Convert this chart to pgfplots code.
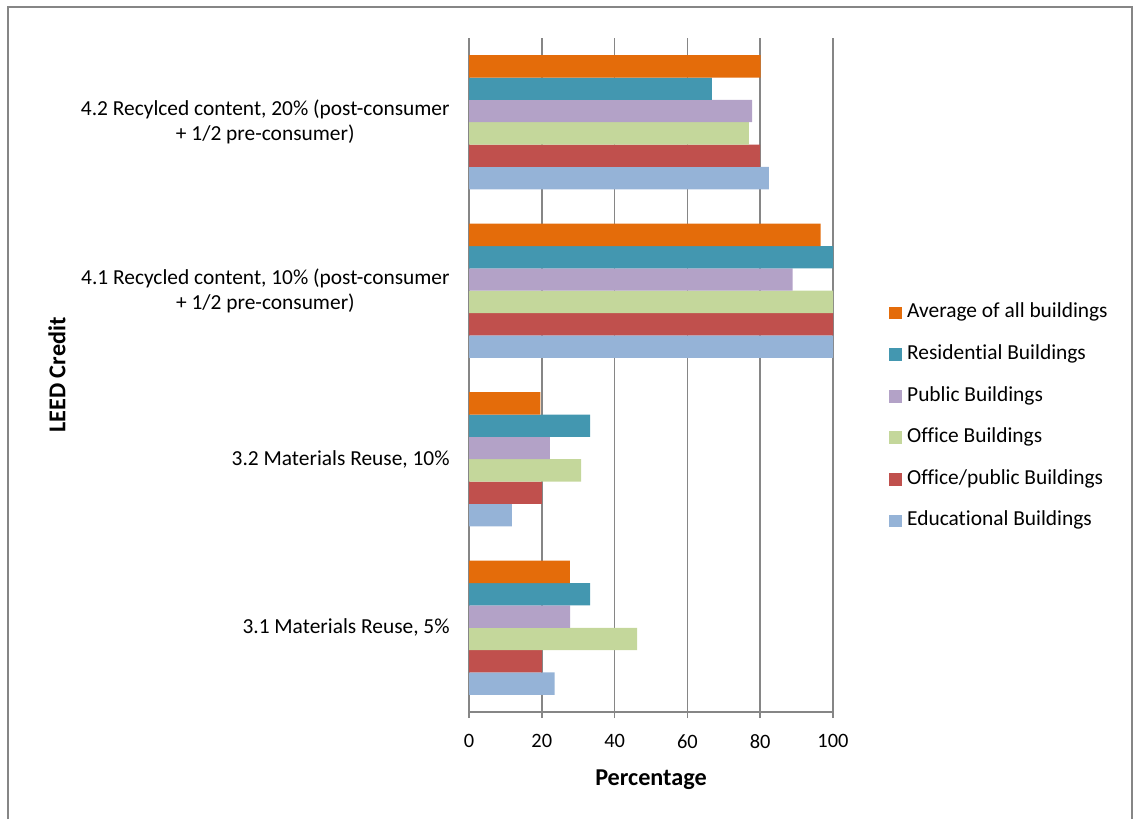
\documentclass[border=0pt]{standalone}
\usepackage{fontspec}
\setmainfont{Carlito}[Ligatures={NoCommon}]
\usepackage{pgfplots}
\pgfplotsset{compat=1.18}

\definecolor{cAvg}{RGB}{228,108,10}
\definecolor{cRes}{RGB}{67,151,176}
\definecolor{cPub}{RGB}{179,162,199}
\definecolor{cOff}{RGB}{196,215,155}
\definecolor{cOP}{RGB}{192,80,77}
\definecolor{cEdu}{RGB}{149,179,215}
\definecolor{lineGray}{RGB}{134,134,134}

\begin{document}
\begin{tikzpicture}[x=1pt,y=1pt]
\useasboundingbox (0,0) rectangle (567,409.5);
% chart area border
\draw[lineGray, line width=0.75pt] (4,0) -- (4,406) -- (566,406) -- (566,0);
\begin{axis}[
  at={(234.5pt,53.5pt)}, anchor=south west,
  scale only axis, width=182pt, height=337pt,
  xbar=0pt, bar width=11.17pt,
  xmin=0, xmax=100, ymin=-0.5, ymax=3.5,
  xtick={0,20,...,100},
  ytick={0,1,2,3},
  yticklabels={{3.1 Materials Reuse, 5\%},
               {3.2 Materials Reuse, 10\%},
               {4.1 Recycled content, 10\% (post-consumer\\+ 1/2 pre-consumer)},
               {4.2 Recylced content, 20\% (post-consumer\\+ 1/2 pre-consumer)}},
  axis x line*=bottom, axis y line*=left,
  axis line style={lineGray, line width=0.75pt},
  xmajorgrids, major grid style={lineGray, line width=0.8pt},
  tick align=outside, major tick length=3pt,
  xtick style={lineGray, line width=0.75pt},
  ytick style={draw=none},
  /pgf/number format/assume math mode=true,
  tick label style={text=black},
  xticklabel style={inner sep=0pt, yshift=-8pt, font=\fontsize{10.2}{12.5}\selectfont},
  yticklabel style={align=center, inner sep=0pt, xshift=-6.5pt, font=\fontsize{10.7}{12.5}\selectfont},
  xlabel={Percentage}, ylabel={LEED Credit},
  every axis x label/.style={at={(axis description cs:0.5,0)}, anchor=center, yshift=-34pt,
    font=\fontsize{12.1}{14}\bfseries\selectfont},
  every axis y label/.style={at={(axis description cs:0,0.5)}, anchor=center, xshift=-206pt, rotate=90,
    font=\fontsize{12.1}{14}\bfseries\selectfont},
  reverse legend,
  legend cell align=left,
  legend image code/.code={\path[#1, draw=none] (0pt,-3.2pt) rectangle (6.4pt,3.2pt);},
  legend style={draw=none, fill=none, at={(axis description cs:1.1538,0.4377)}, anchor=west,
    inner sep=0pt, column sep=2.5pt, row sep=11.8pt,
    font=\fontsize{10.7}{12.5}\selectfont,
    nodes={inner sep=0pt, text height=7pt, text depth=2pt}},
]
% bottom to top within each group
\addplot[fill=cEdu, draw=none] coordinates {(23.5,0) (11.8,1) (100,2) (82.4,3)};
\addplot[fill=cOP,  draw=none] coordinates {(20,0) (20,1) (100,2) (80,3)};
\addplot[fill=cOff, draw=none] coordinates {(46.2,0) (30.8,1) (100,2) (76.9,3)};
\addplot[fill=cPub, draw=none] coordinates {(27.8,0) (22.2,1) (88.9,2) (77.8,3)};
\addplot[fill=cRes, draw=none] coordinates {(33.3,0) (33.3,1) (100,2) (66.7,3)};
\addplot[fill=cAvg, draw=none] coordinates {(27.7,0) (19.6,1) (96.6,2) (80.1,3)};
\legend{Educational Buildings, Office/public Buildings, Office Buildings,
        Public Buildings, Residential Buildings, Average of all buildings}
\end{axis}
\end{tikzpicture}
\end{document}
